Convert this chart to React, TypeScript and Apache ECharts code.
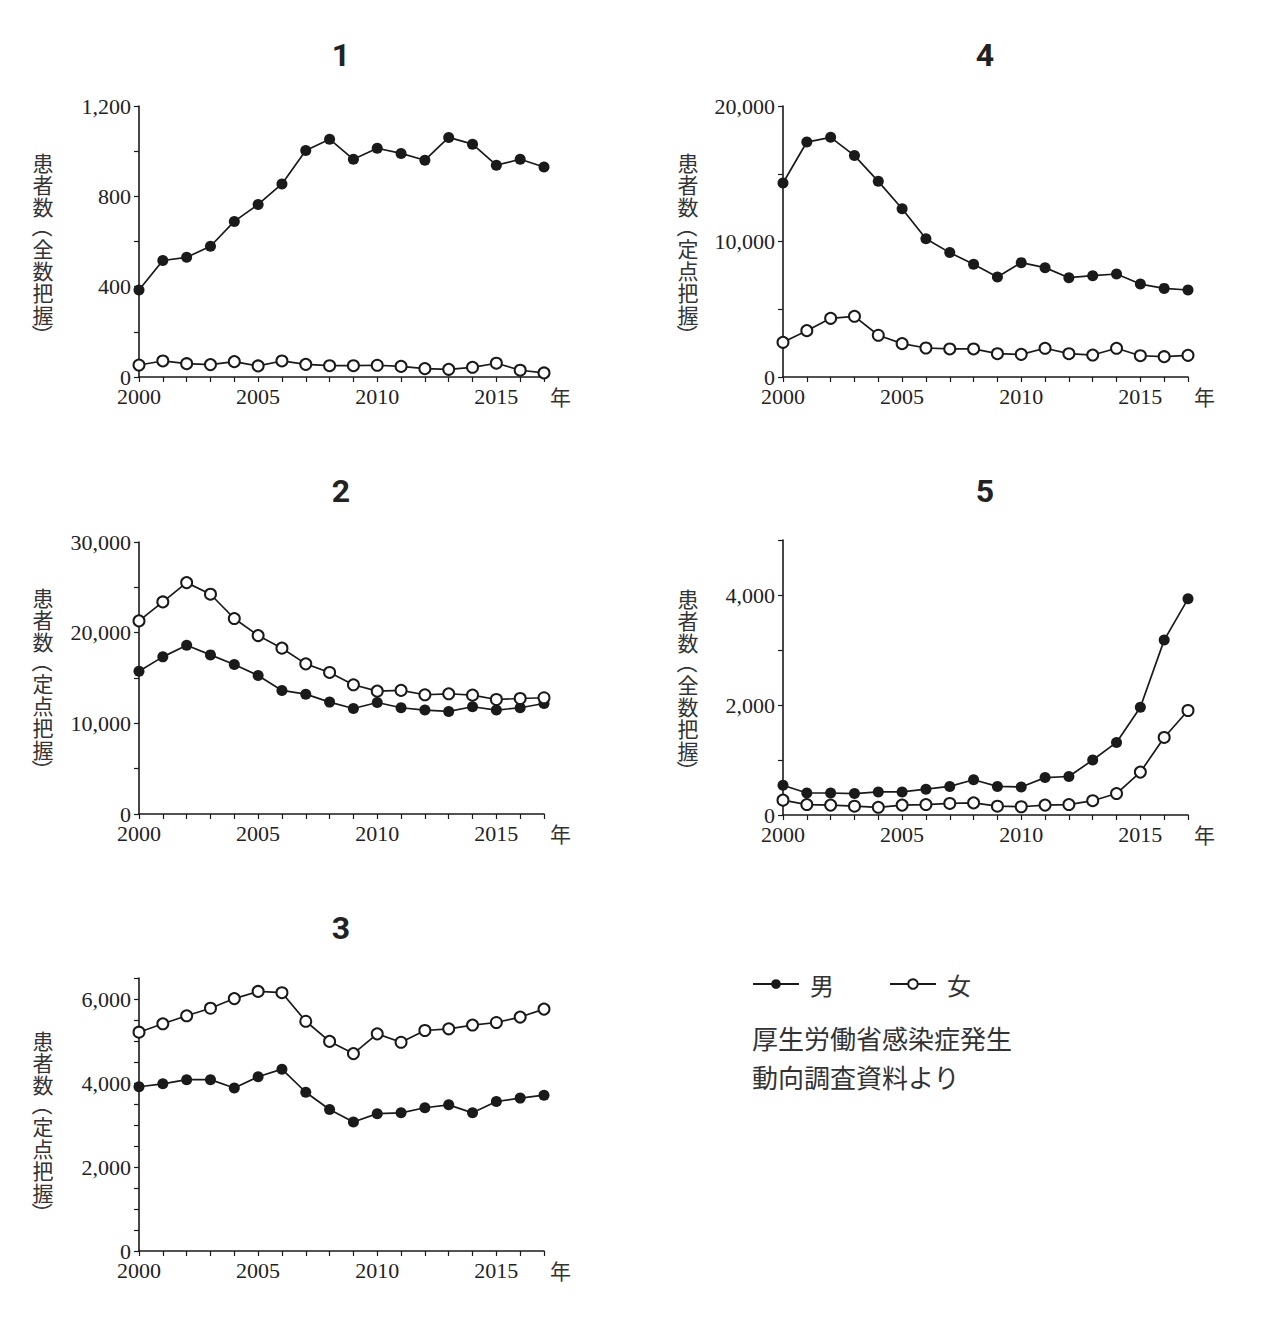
import React, { useEffect, useRef } from 'react';
import * as echarts from 'echarts';

const years = ['2000','2001','2002','2003','2004','2005','2006','2007','2008','2009','2010','2011','2012','2013','2014','2015','2016','2017'];

// Panel 1 (全数把握)
const p1Male = [385, 516, 530, 579, 689, 764, 855, 1003, 1053, 964, 1013, 990, 960, 1061, 1031, 938, 964, 930];
const p1Female = [53, 71, 59, 55, 68, 49, 71, 56, 50, 50, 52, 47, 37, 34, 43, 61, 30, 18];
// Panel 2 (定点把握)
const p2Male = [15750, 17330, 18620, 17550, 16490, 15280, 13630, 13220, 12340, 11640, 12300, 11720, 11460, 11310, 11830, 11460, 11720, 12190];
const p2Female = [21300, 23390, 25520, 24240, 21560, 19680, 18290, 16560, 15610, 14250, 13550, 13630, 13150, 13260, 13110, 12630, 12740, 12820];
// Panel 3 (定点把握)
const p3Male = [3910, 3980, 4080, 4080, 3880, 4150, 4330, 3780, 3370, 3070, 3270, 3290, 3410, 3480, 3290, 3560, 3640, 3710];
const p3Female = [5210, 5410, 5600, 5780, 6010, 6180, 6150, 5470, 4990, 4700, 5170, 4970, 5250, 5290, 5380, 5440, 5570, 5760];
// Panel 4 (定点把握)
const p4Male = [14320, 17340, 17690, 16340, 14440, 12420, 10210, 9180, 8320, 7380, 8440, 8070, 7330, 7480, 7600, 6860, 6540, 6420];
const p4Female = [2560, 3420, 4330, 4480, 3080, 2460, 2140, 2070, 2070, 1720, 1670, 2120, 1720, 1620, 2120, 1570, 1500, 1600];
// Panel 5 (全数把握)
const p5Male = [540, 400, 400, 390, 420, 420, 470, 520, 640, 520, 510, 680, 700, 1000, 1320, 1960, 3180, 3930];
const p5Female = [270, 190, 180, 160, 140, 180, 190, 210, 220, 160, 150, 180, 190, 260, 390, 780, 1410, 1900];

const legendNames = ['男', '女'];
const sourceLines = ['厚生労働省感染症発生', '動向調査資料より'];

const SERIF = "'Liberation Serif', 'DejaVu Serif', serif";
const JP = "'Noto Sans CJK JP', sans-serif";
const INK = '#1a1a1a';

const panels = [
  { label: '1', male: p1Male, female: p1Female, max: 1200, interval: 200, step: 400, yName: '全数把握',
    grid: { left: 139, top: 106, width: 405, height: 271 }, titleX: 341, titleY: 55, nameX: 43, nameY: 162 },
  { label: '4', male: p4Male, female: p4Female, max: 20000, interval: 5000, step: 10000, yName: '定点把握',
    grid: { left: 783, top: 106, width: 405, height: 271 }, titleX: 985, titleY: 55, nameX: 688, nameY: 162 },
  { label: '2', male: p2Male, female: p2Female, max: 30000, interval: 5000, step: 10000, yName: '定点把握',
    grid: { left: 139, top: 542, width: 405, height: 272 }, titleX: 341, titleY: 491, nameX: 43, nameY: 597 },
  { label: '5', male: p5Male, female: p5Female, max: 5000, interval: 1000, step: 2000, yName: '全数把握',
    grid: { left: 783, top: 540, width: 405, height: 275 }, titleX: 985, titleY: 491, nameX: 688, nameY: 598 },
  { label: '3', male: p3Male, female: p3Female, max: 6500, interval: 500, step: 2000, yName: '定点把握',
    grid: { left: 139, top: 978, width: 405, height: 273 }, titleX: 341, titleY: 928, nameX: 43, nameY: 1040 },
];

const FS = 21;
const LH = 22;

// vertical axis title: 患者数（xxxx） written top-to-bottom, brackets turned to vertical form
function verticalName(x: number, yFirst: number, inner: string) {
  const top1 = yFirst - LH / 2;
  const end1 = top1 + 3 * LH;
  const open = end1 + 10;
  const top2 = end1 + 20;
  const end2 = top2 + inner.length * LH;
  const close = end2 + 10;
  const base = { fill: '#333', font: `${FS}px ${JP}`, textAlign: 'center' };
  return [
    { type: 'text', x, y: top1, style: { ...base, text: '患\n者\n数', lineHeight: LH, textVerticalAlign: 'top' } },
    { type: 'text', x, y: open, rotation: -Math.PI / 2, style: { ...base, text: '（', lineHeight: 20, textVerticalAlign: 'middle' } },
    { type: 'text', x, y: top2, style: { ...base, text: inner.split('').join('\n'), lineHeight: LH, textVerticalAlign: 'top' } },
    { type: 'text', x, y: close, rotation: -Math.PI / 2, style: { ...base, text: '）', lineHeight: 20, textVerticalAlign: 'middle' } },
  ];
}

export default function App() {
  const ref = useRef<HTMLDivElement>(null);
  useEffect(() => {
    if (!ref.current) return;
    const chart = echarts.init(ref.current, undefined, { renderer: 'svg' });

    const grids = panels.map((p) => ({ ...p.grid, containLabel: false }));
    const xAxes = panels.map((p, i) => ({
      type: 'category',
      gridIndex: i,
      data: years,
      boundaryGap: false,
      name: '年',
      nameLocation: 'end',
      nameGap: 6,
      nameTextStyle: { fontFamily: JP, fontSize: 21, color: '#333', verticalAlign: 'top', padding: [9, 0, 0, 0] },
      axisLine: { show: true, lineStyle: { color: INK, width: 1.6 } },
      axisTick: { show: true, interval: 0, length: 5, lineStyle: { color: INK, width: 1.2 } },
      axisLabel: {
        interval: (_idx: number, v: string) => Number(v) % 5 === 0,
        fontFamily: SERIF, fontSize: 22, color: '#222', margin: 8,
      },
      splitLine: { show: false },
    }));
    const yAxes = panels.map((p, i) => ({
      type: 'value',
      gridIndex: i,
      min: 0,
      max: p.max,
      interval: p.interval,
      axisLine: { show: true, lineStyle: { color: INK, width: 1.6 } },
      axisTick: { show: true, length: 5, lineStyle: { color: INK, width: 1.2 } },
      axisLabel: {
        fontFamily: SERIF, fontSize: 22, color: '#222', margin: 8,
        formatter: (v: number) => (v % p.step === 0 ? v.toLocaleString('en-US') : ''),
      },
      splitLine: { show: false },
    }));
    const series: any[] = [];
    panels.forEach((p, i) => {
      series.push({
        name: legendNames[0], type: 'line', xAxisIndex: i, yAxisIndex: i, data: p.male,
        symbol: 'circle', symbolSize: 11, showSymbol: true,
        lineStyle: { color: INK, width: 1.7 }, itemStyle: { color: INK },
      });
      series.push({
        name: legendNames[1], type: 'line', xAxisIndex: i, yAxisIndex: i, data: p.female,
        symbol: 'emptyCircle', symbolSize: 11, showSymbol: true,
        lineStyle: { color: INK, width: 1.7 }, itemStyle: { color: INK, borderWidth: 1.6 },
      });
    });

    const graphic: any[] = [];
    panels.forEach((p) => {
      graphic.push({
        type: 'text', x: p.titleX, y: p.titleY,
        style: { text: p.label, fill: '#222', font: `bold 32px Roboto, sans-serif`, textAlign: 'center', textVerticalAlign: 'middle' },
      });
      graphic.push(...verticalName(p.nameX, p.nameY, p.yName));
    });
    sourceLines.forEach((t, i) => {
      graphic.push({
        type: 'text', x: 752, y: 1037 + i * 39,
        style: { text: t, fill: '#333', font: `26px ${JP}`, textAlign: 'left', textVerticalAlign: 'middle' },
      });
    });

    chart.setOption({
      animation: false,
      backgroundColor: '#fff',
      grid: grids,
      xAxis: xAxes,
      yAxis: yAxes,
      series,
      legend: {
        data: legendNames,
        left: 752,
        top: 972,
        padding: 0,
        itemWidth: 46,
        itemHeight: 12,
        itemGap: 55,
        textStyle: { fontFamily: JP, fontSize: 24, color: '#333', padding: [0, 0, 0, 6] },
      },
      graphic,
    });
    return () => chart.dispose();
  }, []);
  return <div ref={ref} style={{ position: 'absolute', left: 0, top: 0, width: 1262, height: 1320, background: '#fff' }} />;
}
